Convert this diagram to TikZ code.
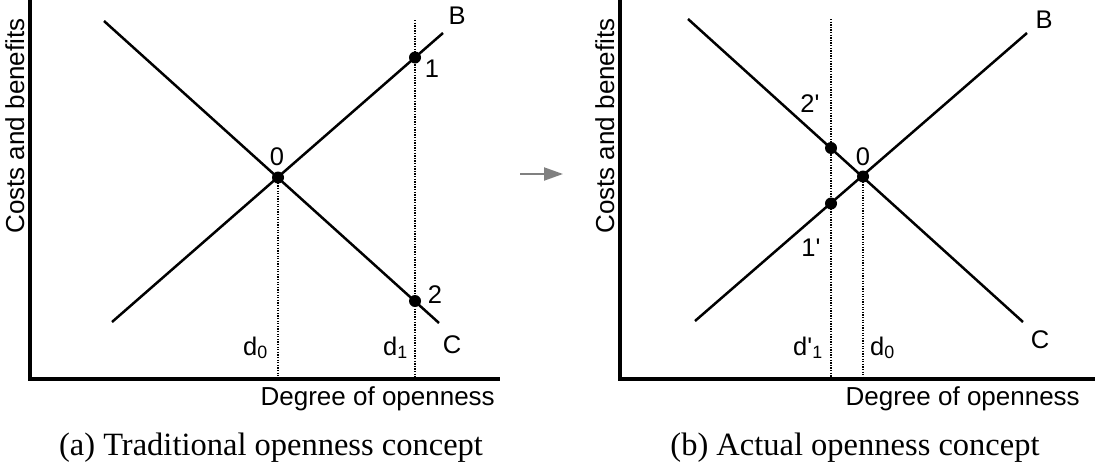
\documentclass[tikz,border=0pt]{standalone}
\usepackage{fontspec}
\setmainfont{Liberation Serif}
\setsansfont{Liberation Sans}
\usetikzlibrary{arrows.meta}
\begin{document}
\begin{tikzpicture}[x=1pt,y=-1pt,
  curve/.style={line width=2.5pt},
  axis/.style={line width=3.4pt, line join=miter},
  guide/.style={line width=1.1pt, dash pattern=on 1.3pt off 1.3pt},
  dot/.style={circle, fill=black, inner sep=0pt, minimum size=12pt},
  lbl/.style={font=\sffamily\fontsize{25.5}{30}\selectfont, inner sep=0pt},
  axlbl/.style={font=\sffamily\fontsize{26}{31}\selectfont, inner sep=0pt},
  captext/.style={font=\fontsize{32.5}{38}\selectfont, inner sep=0pt},
  flow/.style={draw=gray, line width=2pt, -{Triangle[length=19pt,width=13pt]}}]
\useasboundingbox (0,0) rectangle (1095,466);

% ---------- panel (a) ----------
\coordinate (aYtop) at (30,-2);
\coordinate (aXend) at (500,379);
\draw[axis] (aYtop) |- (aXend);
\coordinate (aC1) at (104,21);
\coordinate (aC2) at (439,323);
\coordinate (aB1) at (112,322);
\coordinate (aB2) at (443,33);
\draw[curve] (aC1) -- (aC2);
\draw[curve] (aB1) -- (aB2);
\node[dot] (a0) at (278,177.5) {};
\node[dot] (a1) at (415,57.5) {};
\node[dot] (a2) at (415,301) {};
\coordinate (aD0bot) at (278,379);
\coordinate (aD1top) at (415,20);
\coordinate (aD1bot) at (415,379);
\draw[guide] (a0.center) -- (aD0bot);
\draw[guide] (aD1top) -- (aD1bot);
\node[lbl] (aBl) at (457,16) {B};
\node[lbl] (aCl) at (452,345) {C};
\node[lbl] (a0l) at (277,157) {0};
\node[lbl] (a1l) at (432,69) {1};
\node[lbl] (a2l) at (435,295) {2};
\node[lbl, anchor=base west] (ad0) at (243,355) {d\textsubscript{0}};
\node[lbl, anchor=base west] (ad1) at (383,355) {d\textsubscript{1}};
\node[axlbl, anchor=base east] (ax) at (495,405) {Degree of openness};
\node[axlbl, anchor=base, rotate=90] (ay) at (24,126) {Costs and benefits};
\node[captext, anchor=base] (acap) at (271,455) {(a) Traditional openness concept};

% ---------- arrow ----------
\coordinate (arrS) at (520,174);
\coordinate (arrE) at (563,174);
\draw[flow] (arrS) -- (arrE);

% ---------- panel (b) ----------
\coordinate (bYtop) at (620,-2);
\coordinate (bXend) at (1097,379);
\draw[axis] (bYtop) |- (bXend);
\coordinate (bC1) at (688,19);
\coordinate (bC2) at (1023,322);
\coordinate (bB1) at (695,321);
\coordinate (bB2) at (1027,33);
\draw[curve] (bC1) -- (bC2);
\draw[curve] (bB1) -- (bB2);
\node[dot] (b0) at (863,176.5) {};
\node[dot] (b2) at (831,148) {};
\node[dot] (b1) at (831,203.5) {};
\coordinate (bD0bot) at (863,379);
\coordinate (bD1top) at (831,19);
\coordinate (bD1bot) at (831,379);
\draw[guide] (b0.center) -- (bD0bot);
\draw[guide] (bD1top) -- (bD1bot);
\node[lbl] (bBl) at (1044,20) {B};
\node[lbl] (bCl) at (1040,340) {C};
\node[lbl] (b0l) at (863,157) {0};
\node[lbl] (b2l) at (810,104) {2\textquotesingle};
\node[lbl] (b1l) at (811,248) {1\textquotesingle};
\node[lbl, anchor=base west] (bd1) at (793,355) {d\textquotesingle\textsubscript{1}};
\node[lbl, anchor=base west] (bd0) at (870,355) {d\textsubscript{0}};
\node[axlbl, anchor=base east] (bx) at (1080,405) {Degree of openness};
\node[axlbl, anchor=base, rotate=90] (by) at (614,126) {Costs and benefits};
\node[captext, anchor=base] (bcap) at (855,455) {(b) Actual openness concept};
\end{tikzpicture}
\end{document}
